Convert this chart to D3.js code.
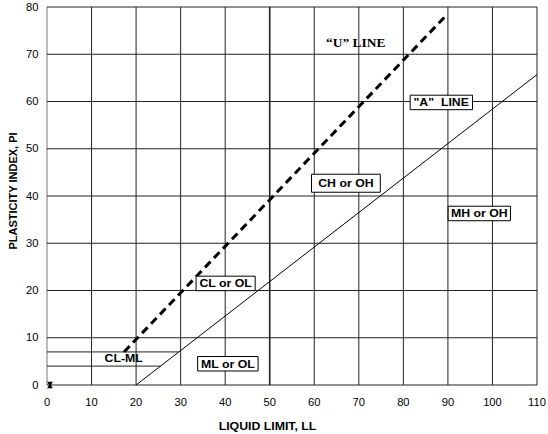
<!DOCTYPE html>
<html lang="en">
<head>
  <meta charset="UTF-8">
  <title>Plasticity chart</title>
  <script src="https://cdn.jsdelivr.net/npm/d3@7/dist/d3.min.js"></script>
  <style>
    body { margin: 0; background: #fff; }
  </style>
</head>
<body>
  <script>
    // ticks
    var xTicks = [0, 10, 20, 30, 40, 50, 60, 70, 80, 90, 100, 110]
    var yTicks = [0, 10, 20, 30, 40, 50, 60, 70, 80]

    // "A" line and "U" line (LL, PI)
    var aLineLL = [20, 110]
    var aLinePI = [0, 65.7]
    var uLineLL = [17.3, 89.9]
    var uLinePI = [7, 78.5]

    // CL-ML band limits: PI level and LL where it meets the A line
    var bandPI = [4, 7]
    var bandLL = [25.5, 29.6]

    // zone labels
    var zoneNames = ['"A"\u00a0\u00a0LINE', 'CH or OH', 'MH or OH', 'CL or OL', 'ML or OL']
    var zoneLL = [88.5, 67.1, 97.05, 40.1, 40.6]
    var zonePI = [59.8, 42.7, 36.3, 21.5, 4.5]

    var w = 548, h = 434
    var padL = 47, padR = 537, padT = 7, padB = 385
    var stretch = 1.12   // the original text is a bit wide

    var x = d3.scaleLinear().domain([0, 110]).range([padL, padR])
    var y = d3.scaleLinear().domain([0, 80]).range([padB, padT])

    var svg = d3.select('body').append('svg').attr('width', w).attr('height', h)
      .style('font-family', 'Liberation Sans, Arial, sans-serif')

    // grid
    svg.append('g').selectAll('line').data(xTicks).enter().append('line')
      .attr('x1', function (d) { return x(d) }).attr('x2', function (d) { return x(d) })
      .attr('y1', y(0)).attr('y2', y(80))
      .attr('stroke', function (d) { return d == 0 ? '#777' : '#222' })
      .attr('stroke-width', function (d) { return d == 50 ? 1.6 : 1 })
    svg.append('g').selectAll('line').data(yTicks).enter().append('line')
      .attr('x1', x(0)).attr('x2', x(110))
      .attr('y1', function (d) { return y(d) }).attr('y2', function (d) { return y(d) })
      .attr('stroke', '#222').attr('stroke-width', 1)

    // CL-ML band lines
    svg.append('g').selectAll('line').data(bandPI).enter().append('line')
      .attr('x1', x(0)).attr('x2', function (d, i) { return x(bandLL[i]) })
      .attr('y1', function (d) { return y(d) }).attr('y2', function (d) { return y(d) })
      .attr('stroke', '#222').attr('stroke-width', 1)

    var line = d3.line().x(function (d) { return x(d[0]) }).y(function (d) { return y(d[1]) })

    svg.append('path').datum(d3.zip(aLineLL, aLinePI)).attr('d', line)
      .attr('fill', 'none').attr('stroke', '#000').attr('stroke-width', 1)

    svg.append('path').datum(d3.zip(uLineLL, uLinePI)).attr('d', line)
      .attr('fill', 'none').attr('stroke', '#000').attr('stroke-width', 3)
      .attr('stroke-dasharray', '8,5')

    // little hourglass marker at origin
    svg.append('path').attr('d', d3.symbol().type(d3.symbolTriangle).size(14)())
      .attr('transform', 'translate(' + (x(0) + 3) + ',' + (y(0) + 1.5) + ')').attr('fill', '#000')
    svg.append('path').attr('d', d3.symbol().type(d3.symbolTriangle).size(14)())
      .attr('transform', 'translate(' + (x(0) + 3) + ',' + (y(0) - 1.5) + ') rotate(180)').attr('fill', '#000')

    function wideText(px, py, str) {
      return svg.append('text').attr('transform', 'translate(' + px + ',' + py + ') scale(' + stretch + ',1)').text(str)
    }

    // tick labels
    xTicks.forEach(function (d) {
      wideText(x(d), 406, d).attr('text-anchor', 'middle').attr('font-size', '10px')
    })
    yTicks.forEach(function (d) {
      wideText(38.5, y(d) + 3.5, d).attr('text-anchor', 'end').attr('font-size', '10px')
    })

    // axis titles
    wideText((216 + 319) / 2, 429.5, 'LIQUID LIMIT, LL').attr('text-anchor', 'middle')
      .attr('font-size', '11px').attr('font-weight', 'bold')
    svg.append('text').attr('transform', 'translate(17,191) rotate(-90)')
      .attr('text-anchor', 'middle').attr('font-size', '11px').attr('font-weight', 'bold')
      .text('PLASTICITY INDEX, PI')

    // "U" line label
    wideText(x(69.3), y(71.5), '\u201CU\u201D LINE').attr('text-anchor', 'middle')
      .attr('font-family', 'Liberation Serif, Times New Roman, serif')
      .attr('font-size', '12px').attr('font-weight', 'bold')

    // CL-ML (no box)
    wideText(x(17.2), y(4.9), 'CL-ML').attr('text-anchor', 'middle')
      .attr('font-size', '11px').attr('font-weight', 'bold')

    // boxed zone labels
    var boxPad = [3, 6, 2.5, 3, 3]
    zoneNames.forEach(function (name, i) {
      var g = svg.append('g')
        .attr('transform', 'translate(' + x(zoneLL[i]) + ',' + y(zonePI[i]) + ') scale(' + stretch + ',1)')
      var r = g.append('rect')
      var t = g.append('text').attr('text-anchor', 'middle').attr('dy', '0.36em')
        .attr('font-size', '11px').attr('font-weight', 'bold').text(name)
      var bb = t.node().getBBox()
      var p = boxPad[i]
      var bh = i == 1 ? 18 : 14.5
      r.attr('x', bb.x - p).attr('y', -bh / 2).attr('width', bb.width + 2 * p).attr('height', bh)
        .attr('fill', '#fff').attr('stroke', '#000').attr('stroke-width', 1)
        .attr('vector-effect', 'non-scaling-stroke')
    })
  </script>
</body>
</html>
